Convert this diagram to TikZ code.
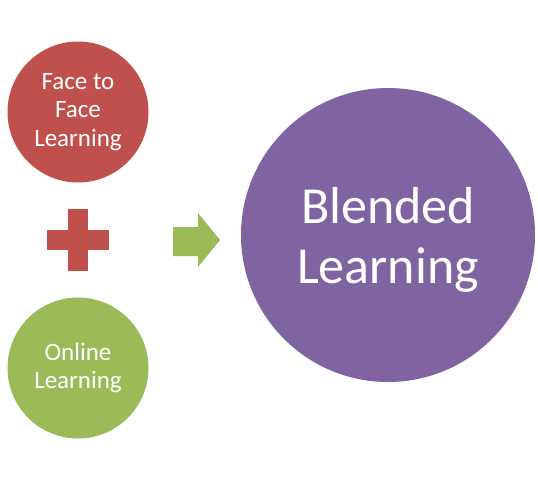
\documentclass[tikz,border=0pt]{standalone}
\usepackage{fontspec}
\setmainfont{Carlito}
\definecolor{facered}{HTML}{C0504D}
\definecolor{onlinegreen}{HTML}{9BBB59}
\definecolor{blendpurple}{HTML}{8064A2}
\tikzset{
	bubble/.style={circle,inner sep=0pt,text=white,align=center},
	small bubble/.style={bubble,minimum size=141pt,font=\fontsize{25}{28.5}\selectfont},
}
\begin{document}
\begin{tikzpicture}[x=1pt,y=-1pt]
	\useasboundingbox (0,0) rectangle (538,480);
	\node[small bubble,fill=facered] (face) at (78,112) {Face to\\Face\\Learning};
	\node[small bubble,fill=onlinegreen] (online) at (78,368) {Online\\Learning};
	\node[bubble,fill=blendpurple,minimum size=294pt] (blended) at (388,235) {};
	\node[text=white,align=center,font=\fontsize{52}{60}\selectfont] (blendedtext) at ([yshift=-5pt]blended.center) {Blended\\Learning};
	% plus sign
	\def\xP{78};
	\def\yP{240};
	\fill[facered] (\xP-10,\yP-31) rectangle (\xP+10,\yP+31);
	\fill[facered] (\xP-31,\yP-10) rectangle (\xP+31,\yP+10);
	% arrow
	\def\xA{173};
	\def\yA{240};
	\fill[onlinegreen] (\xA,\yA-13)--(\xA+25,\yA-13)--(\xA+25,\yA-27)--(\xA+47,\yA)--(\xA+25,\yA+27)--(\xA+25,\yA+16)--(\xA,\yA+16)--cycle;
\end{tikzpicture}
\end{document}
